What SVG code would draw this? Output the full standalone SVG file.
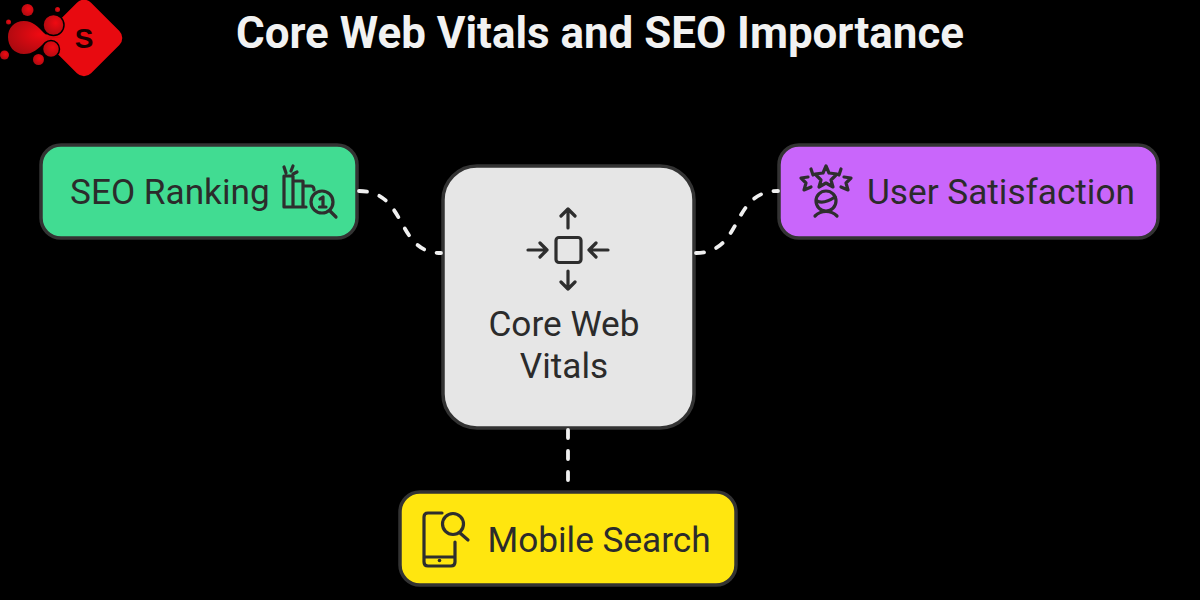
<svg xmlns="http://www.w3.org/2000/svg" width="1200" height="600" viewBox="0 0 1200 600">
<defs>
<radialGradient id="bg" cx="0.6" cy="0.4" r="0.7"><stop offset="0" stop-color="#f00a12"/><stop offset="1" stop-color="#a80a10"/></radialGradient>
</defs>
<style>
.box{stroke:#333333;stroke-width:3.5}
.lbl{font-family:"Roboto","Liberation Sans",sans-serif;font-size:35.200px;fill:#2b2b2b}
.ic{fill:none;stroke:#2e2e2e;stroke-width:3.200;stroke-linecap:round;stroke-linejoin:round}
.conn{fill:none;stroke:#f0f0f0;stroke-width:3.800;stroke-dasharray:8 13;stroke-linecap:round}
.ball{fill:url(#bg)}
</style>
<rect width="1200" height="600" fill="#000"/>
<g id="logo">
<rect x="54" y="8" width="60" height="60" rx="10" transform="rotate(45 84 38)" fill="#e80a10"/>
<path d="M24 21C33 21 38 27 44 33 47 36 52 37 62 37 52 38 47 40 44 43 38 49 33 54 24 54 14 54 8 46 8 37 8 28 14 21 24 21Z" class="ball"/>
<circle class="ball" cx="53.500" cy="25" r="10.500" stroke="#000" stroke-width="1.500"/>
<circle class="ball" cx="51" cy="49" r="8.500" stroke="#000" stroke-width="1.500"/>
<circle class="ball" cx="27.500" cy="10" r="6"/>
<circle class="ball" cx="57.500" cy="9.500" r="2.500"/>
<circle class="ball" cx="8.500" cy="22" r="2.500"/>
<circle class="ball" cx="4.500" cy="55" r="4.500"/>
<circle class="ball" cx="38.500" cy="59.500" r="5.500"/>
<text x="84" y="48" font-family="'Liberation Sans',sans-serif" font-size="28" font-weight="700" fill="#1a0000" text-anchor="middle">S</text>
</g>
<text id="title" x="600" y="47.500" font-family="Roboto,'Liberation Sans',sans-serif" font-size="43.900" font-weight="700" fill="#f2f2f2" text-anchor="middle">Core Web Vitals and SEO Importance</text>
<g id="node-seo">
<rect class="box" x="41" y="145" width="316" height="93" rx="20" fill="#41dc92"/>
<text class="lbl" x="70" y="204">SEO Ranking</text>
<path class="ic" d="M284 207V176H293V207M293 181H303V207M303 186H311C313 186 314 188 314 190M284 207H306M284 167L286 173M293 166L291 171M297 172L293 174"/>
<circle class="ic" cx="322" cy="202" r="11"/>
<path class="ic" d="M330 211L336 217M320 199L323 197V207M319.500 207H326"/>
</g>
<g id="node-core">
<rect class="box" x="443" y="166" width="251" height="262" rx="34" fill="#e6e6e6"/>
<rect class="ic" x="556" y="237.500" width="25" height="25" rx="3"/>
<path class="ic" d="M568 228V209M561 216L568 209L575 216M568 271V289M561 282L568 289L575 282M528 250H547M540 243L547 250L540 257M608 250H589M596 243L589 250L596 257"/>
<text class="lbl" x="564" y="336" text-anchor="middle">Core Web</text>
<text class="lbl" x="564" y="378" text-anchor="middle">Vitals</text>
</g>
<g id="node-user">
<rect class="box" x="779" y="145" width="379" height="93" rx="20" fill="#c966fb"/>
<text class="lbl" x="867" y="204">User Satisfaction</text>
<path class="ic" d="M826 166L829 173 837 174 831 180 833 187 826 183 819 187 821 180 815 174 823 173ZM811 169L813 175M808 177L801 178 806 183 804 190 811 187M841 169L839 175M844 177L851 178 846 183 848 190 841 187"/>
<circle class="ic" cx="826" cy="201" r="10"/>
<path class="ic" d="M817 201C823 204 829 201 835 197M815 216C821 210 831 210 837 216"/>
</g>
<g id="node-mobile">
<rect class="box" x="400" y="492" width="336" height="93" rx="20" fill="#ffe60f"/>
<text class="lbl" x="487.500" y="552">Mobile Search</text>
<path class="ic" d="M442 513H428C425 513 424 515 424 517V562C424 565 426 566 428 566H451C454 566 455 564 455 562V542M424 557H455"/>
<circle cx="439.500" cy="560.500" r="1.800" fill="#2e2e2e"/>
<circle class="ic" cx="453" cy="524" r="10.500"/>
<path class="ic" d="M460 533L468 540"/>
</g>
<g id="connectors">
<path class="conn" d="M359 191C408 191 395 253 441 253"/>
<path class="conn" d="M696 253C744 253 730 191 778 191"/>
<path class="conn" d="M568 430L568 480"/>
</g>
</svg>
